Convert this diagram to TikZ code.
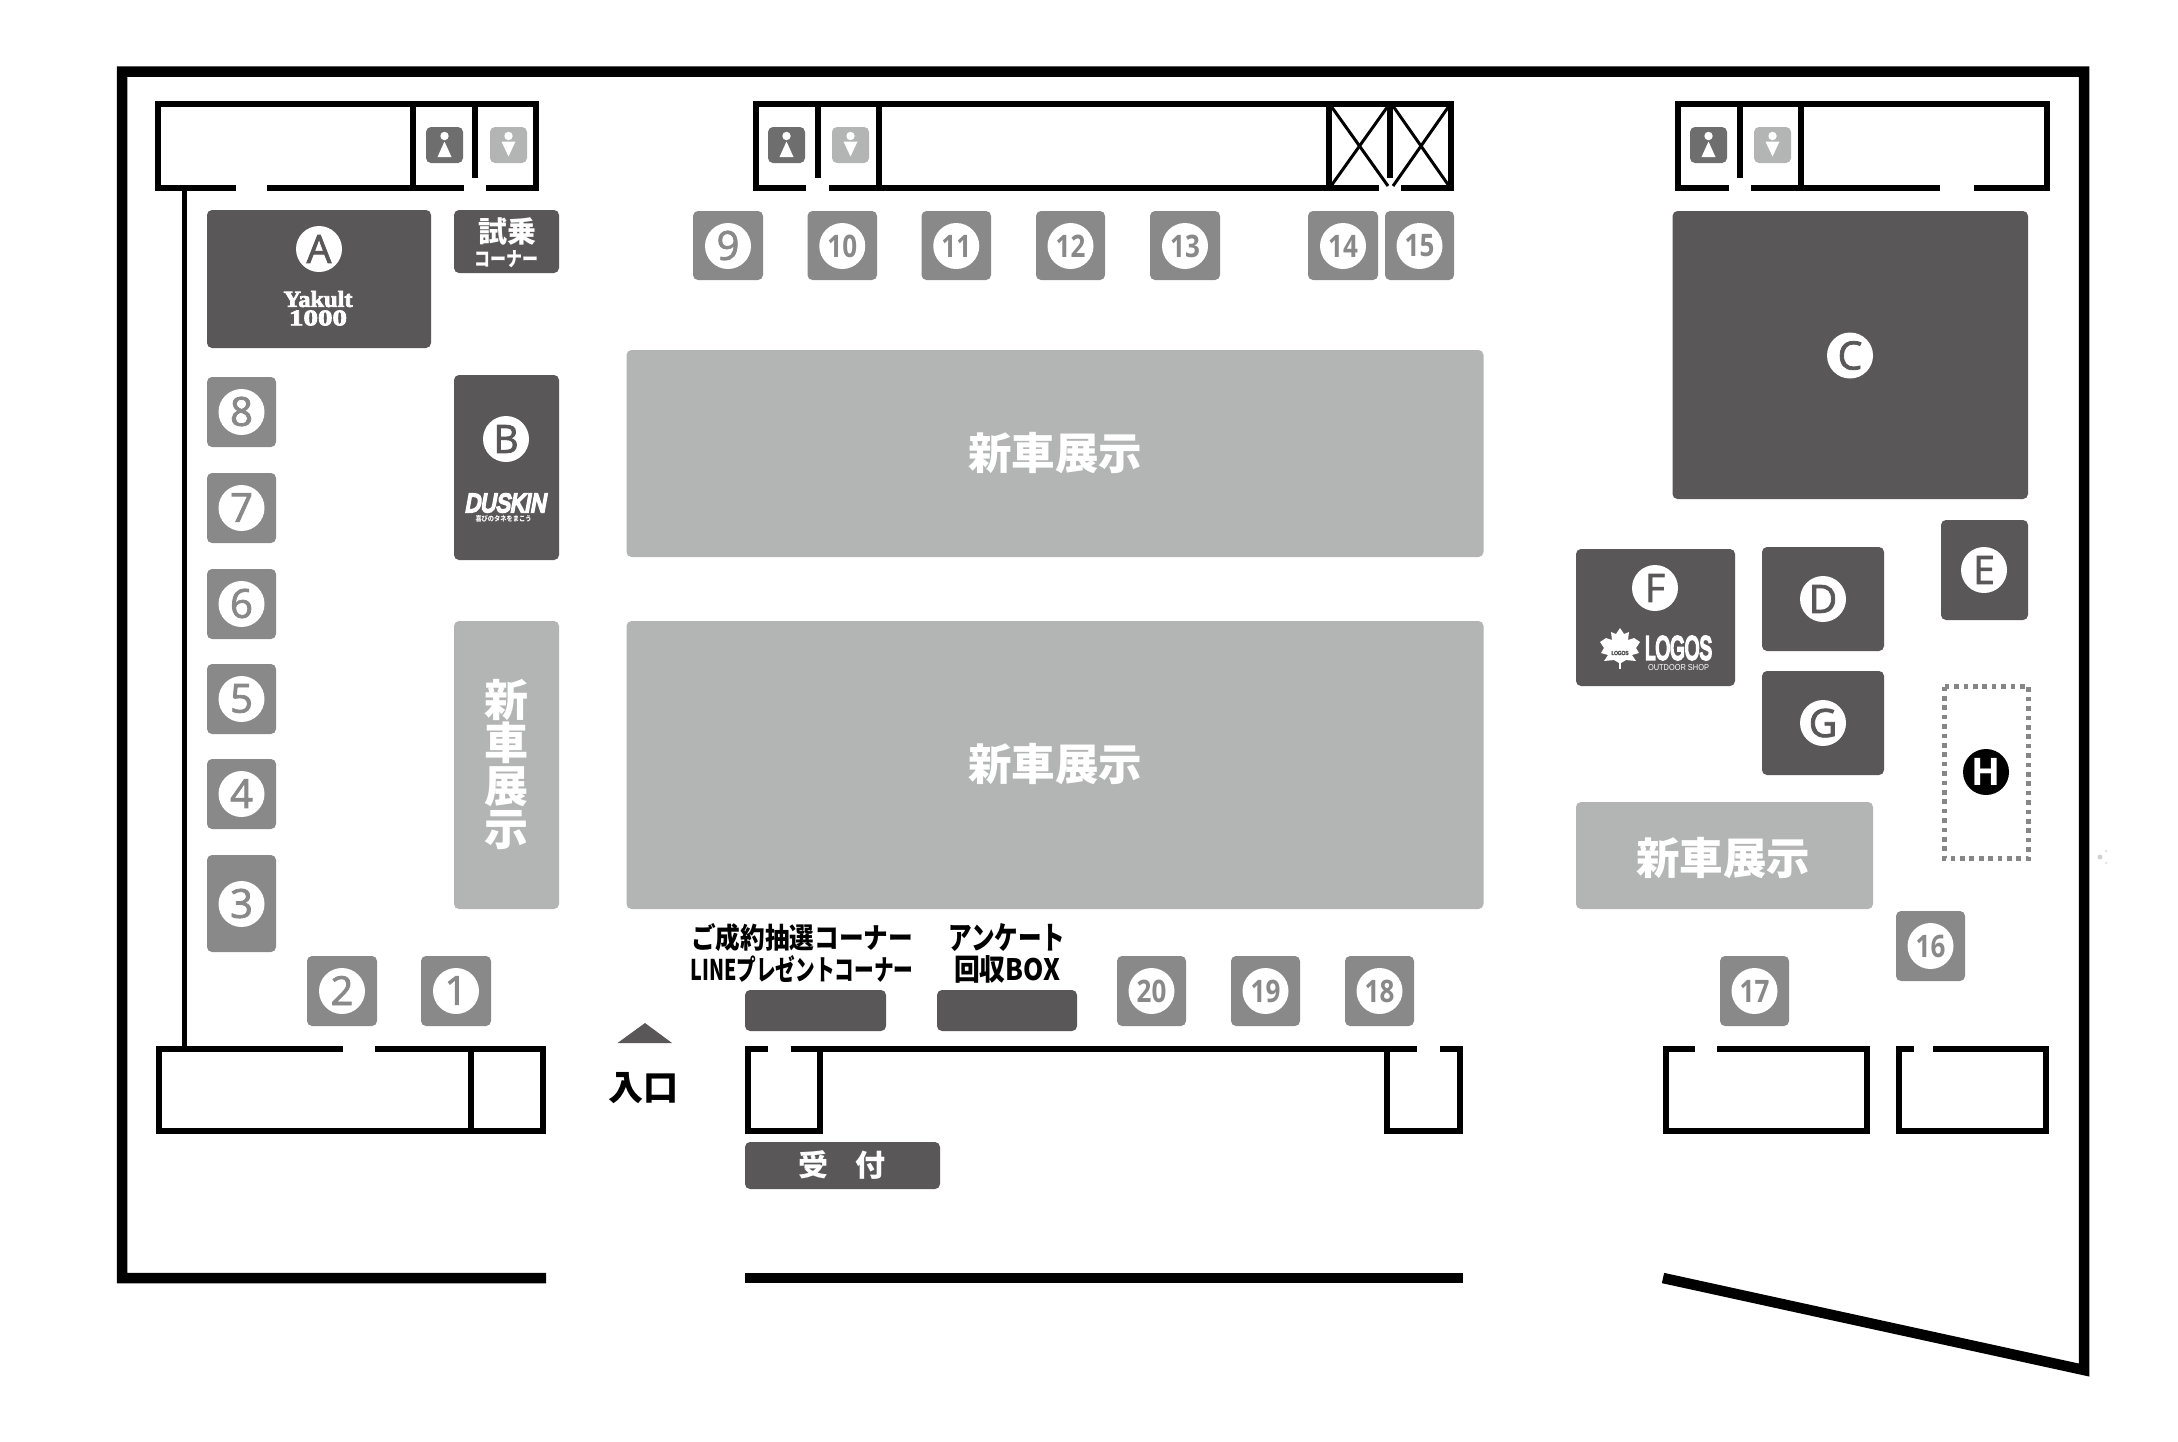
\documentclass[tikz,border=0pt]{standalone}
\usepackage{graphicx}
\usepackage{fontspec}
\setmainfont{Open Sans}
\newfontfamily\jp{Noto Sans CJK JP}
\newfontfamily\ser[FakeBold=3]{Liberation Serif}
\newfontfamily\san{Liberation Sans}
\newfontfamily\sanb[FakeBold=8]{Liberation Sans}
\newfontfamily\sanbi[FakeBold=9,FakeSlant=0.22]{Liberation Sans}
\newfontfamily\mk[FakeBold=2]{Open Sans}
\definecolor{dk}{HTML}{595757}
\definecolor{md}{HTML}{898989}
\definecolor{lt}{HTML}{B3B5B4}
\definecolor{wc}{HTML}{6E6E6E}
\tikzset{
  wall/.style={draw=black,line width=6pt,line join=miter,line cap=butt},
  outer/.style={draw=black,line width=10.5pt,line join=miter,line cap=butt},
  thinx/.style={draw=black,line width=3pt},
  plate/.style={rounded corners=5pt},
  lab/.style={inner sep=0pt,outer sep=0pt,anchor=center}
}
\newcommand{\onedig}[5]{\fill[md,plate] (#1,#3) rectangle (#2,#4);
  \fill[white] ({(#1+#2)/2},{#3+35}) circle[radius=23pt];
  \node[lab,text=md,font=\mk\fontsize{40}{40}\selectfont] at ({(#1+#2)/2},{#3+34.5}) {#5};}
\newcommand{\twodig}[5]{\fill[md,plate] (#1,#3) rectangle (#2,#4);
  \fill[white] ({(#1+#2)/2},{#3+35}) circle[radius=23pt];
  \node[lab,text=md,font=\bfseries\fontsize{31}{31}\selectfont] at ({(#1+#2)/2},{#3+35}) {\scalebox{0.84}[1]{#5}};}
\newcommand{\letter}[4]{\fill[white] (#1,#2) circle[radius=23pt];
  \node[lab,text=#3,font=\mk\fontsize{39}{39}\selectfont] at (#1,#2) {#4};}
\newcommand{\wcf}[2]{\fill[wc,rounded corners=5pt] (#1,#2) rectangle ++(37,36);
  \fill[white] ({#1+18.5},{#2+9}) circle[radius=4.2pt];
  \fill[white] ({#1+18.5},{#2+14.5}) -- ({#1+25.5},{#2+30}) -- ({#1+11.5},{#2+30}) -- cycle;}
\newcommand{\wcm}[2]{\fill[lt,rounded corners=5pt] (#1,#2) rectangle ++(37,36);
  \fill[white] ({#1+18.5},{#2+9}) circle[radius=4.2pt];
  \fill[white] ({#1+11.5},{#2+14.5}) -- ({#1+25.5},{#2+14.5}) -- ({#1+18.5},{#2+29.5}) -- cycle;}
\newcommand{\jpbold}[1]{\jp\bfseries\fontsize{#1}{#1}\selectfont}
\begin{document}
\begin{tikzpicture}[x=1pt,y=-1pt]
\useasboundingbox (0,0) rectangle (2178,1441);
\fill[white] (0,0) rectangle (2178,1441);
% outer walls
\draw[outer] (546,1278) -- (122,1278) -- (122,71.5) -- (2084,71.5) -- (2084,1370) -- (1663,1278);
\draw[outer] (745,1278) -- (1463,1278);
% top-left room
\draw[wall] (236,188) -- (158,188) -- (158,104) -- (536,104) -- (536,188) -- (486,188);
\draw[wall] (267,188) -- (464,188);
\draw[wall] (413,104) -- (413,188);
\draw[wall] (475,104) -- (475,178);
\draw[draw=black,line width=5pt] (184,188) -- (184,1049);
% top-middle room
\draw[wall] (806,188) -- (756,188) -- (756,104) -- (1451,104) -- (1451,188) -- (1401,188);
\draw[wall] (829,188) -- (1379,188);
\draw[wall] (818,104) -- (818,178);
\draw[wall] (879,104) -- (879,188);
\draw[wall] (1329,104) -- (1329,188);
\draw[wall] (1390,104) -- (1390,178);
\draw[thinx] (1331,106) -- (1388,186);
\draw[thinx] (1388,106) -- (1331,186);
\draw[thinx] (1393,106) -- (1449,186);
\draw[thinx] (1449,106) -- (1393,186);
% top-right room
\draw[wall] (1729,188) -- (1678,188) -- (1678,104) -- (2047,104) -- (2047,188) -- (1974,188);
\draw[wall] (1751,188) -- (1940,188);
\draw[wall] (1740,104) -- (1740,178);
\draw[wall] (1801,104) -- (1801,188);
% bottom-left room
\draw[wall] (343,1049) -- (159,1049) -- (159,1130.5) -- (543,1130.5) -- (543,1049) -- (375,1049);
\draw[wall] (471,1049) -- (471,1130);
% bottom-middle room
\draw[wall] (767.5,1049) -- (748,1049) -- (748,1131) -- (820,1131) -- (820,1049);
\draw[wall] (790.5,1049) -- (1417,1049);
\draw[wall] (1440,1049) -- (1460,1049) -- (1460,1130.5) -- (1387,1130.5) -- (1387,1049);
% bottom-right rooms
\draw[wall] (1695,1049) -- (1666,1049) -- (1666,1130.5) -- (1867,1130.5) -- (1867,1049) -- (1717,1049);
\draw[wall] (1914,1049) -- (1899,1049) -- (1899,1130.5) -- (2046,1130.5) -- (2046,1049) -- (1933,1049);
% wc icons
\wcf{426}{127}\wcm{490}{127}
\wcf{768}{127}\wcm{832}{127}
\wcf{1690}{127}\wcm{1754}{127}
% A
\fill[dk,plate] (207,210) rectangle (431,348);
\letter{319}{249}{dk}{A}
\node[lab,text=white] (yak) at (318,299) {\resizebox{69pt}{16pt}{\ser\bfseries Yakult}};
\node[lab,text=white] (yakn) at (318,318) {\resizebox{58pt}{15pt}{\ser\bfseries 1000}};
% shijo
\fill[dk,plate] (454,210) rectangle (559,273);
\node[lab,text=white,font=\jpbold{29}] (shijo) at (507,231) {試乗};
\node[lab,text=white] (corner) at (506,259) {\resizebox{64pt}{16pt}{\jpbold{20}コーナー}};
% B
\fill[dk,plate] (454,375) rectangle (559,560);
\letter{506}{439}{dk}{B}
\node[lab,text=white] (dusk) at (505,503) {\resizebox{81pt}{18pt}{\sanbi DUSKIN}};
\node[lab,text=white] (duskt) at (503.5,519) {\resizebox{56pt}{6pt}{\jpbold{10}喜びのタネをまこう}};
% new car
\fill[lt,plate] (626.5,350) rectangle (1483.5,557);
\fill[lt,plate] (626.5,621) rectangle (1483.5,909);
\fill[lt,plate] (454,621) rectangle (559,909);
\fill[lt,plate] (1576,802) rectangle (1873,909);
\node[lab,text=white,font=\jpbold{43.5}] (nc1) at (1055,453.5) {新車展示};
\node[lab,text=white,font=\jpbold{43.5}] (nc2) at (1055,764.5) {新車展示};
\node[lab,text=white,font=\jpbold{43.5}] (nc3) at (1723,858) {新車展示};
\node[lab,text=white,font=\jpbold{44},align=center] (nc4) at (506,765) {新\\[-1pt]車\\[-1pt]展\\[-1pt]示};
% C
\fill[dk,plate] (1672.5,211) rectangle (2028,499);
\letter{1850}{355.5}{dk}{C}
% F
\fill[dk,plate] (1576,549) rectangle (1735,686);
\letter{1655}{588}{dk}{F}
\fill[white] (1620,628) -- (1624,634) -- (1629,632) -- (1628,640) -- (1634,638) -- (1640,642) -- (1636,648) -- (1639,653) -- (1632,655) -- (1636,661) -- (1626,660) -- (1621,663) -- (1619,663) -- (1614,660) -- (1604,661) -- (1608,655) -- (1601,653) -- (1604,648) -- (1600,642) -- (1606,638) -- (1612,640) -- (1611,632) -- (1616,634) -- cycle;
\draw[white,line width=1.5pt] (1620,660) -- (1620,669);
\node[lab,text=dk] (lg0) at (1620,653) {\resizebox{17pt}{4pt}{\sanb LOGOS}};
\node[lab,text=white] (lg1) at (1678.5,648) {\resizebox{67pt}{23pt}{\sanb LOGOS}};
\node[lab,text=white] (lg2) at (1678.5,668) {\resizebox{61pt}{6pt}{\san OUTDOOR SHOP}};
% D G E
\fill[dk,plate] (1762,547) rectangle (1884,651);
\letter{1823}{599}{dk}{D}
\fill[dk,plate] (1762,671) rectangle (1884,775);
\letter{1823}{723}{dk}{G}
\fill[dk,plate] (1941,520) rectangle (2028,620);
\letter{1984}{570}{dk}{E}
% H
\draw[draw=gray!95,line width=5pt,dash pattern=on 4.7pt off 4.7pt] (1944,686.5) rectangle (2028.5,858.5);
\fill[black] (1986,772) circle[radius=23pt];
\node[lab,text=white,font=\bfseries\fontsize{38}{38}\selectfont] (hh) at (1986,772) {H};
% faint speck by the wall
\fill[black!18] (2100,857) circle[radius=2.5pt];
\fill[black!10] (2106,851) circle[radius=1.5pt];
\fill[black!10] (2106,863) circle[radius=1.5pt];
% numbered booths
\onedig{207}{276}{377}{447}{8}
\onedig{207}{276}{473}{543}{7}
\onedig{207}{276}{569}{639}{6}
\onedig{207}{276}{664}{734}{5}
\onedig{207}{276}{759}{829}{4}
\fill[md,plate] (207,855) rectangle (276,952);
\fill[white] (241.5,904) circle[radius=23pt];
\node[lab,text=md,font=\mk\fontsize{40}{40}\selectfont] (n3) at (241.5,903.5) {3};
\onedig{307}{377}{956}{1026}{2}
\onedig{421}{491}{956}{1026}{1}
\onedig{693}{763}{211}{280}{9}
\twodig{807.5}{877}{211}{280}{10}
\twodig{921.5}{991}{211}{280}{11}
\twodig{1036}{1105}{211}{280}{12}
\twodig{1150}{1220}{211}{280}{13}
\twodig{1308}{1378}{211}{280}{14}
\twodig{1385}{1454}{211}{280}{15}
\twodig{1117}{1186}{956}{1026}{20}
\twodig{1231}{1300}{956}{1026}{19}
\twodig{1345}{1414}{956}{1026}{18}
\twodig{1720}{1789}{956}{1026}{17}
\twodig{1896}{1965}{911}{981}{16}
% service desks
\fill[dk,plate] (745,990) rectangle (886,1031);
\fill[dk,plate] (937,990) rectangle (1077,1031);
\node[lab] (t1) at (802,938) {\resizebox{222pt}{25pt}{\jpbold{24}ご成約抽選コーナー}};
\node[lab] (t2) at (802,969) {\resizebox{223pt}{25pt}{\jpbold{24}LINEプレゼントコーナー}};
\node[lab] (t3) at (1007,938) {\resizebox{117pt}{26pt}{\jpbold{24}アンケート}};
\node[lab] (t4) at (1007,969) {\resizebox{106pt}{25pt}{\jpbold{24}回収BOX}};
\fill[dk,plate] (745,1142) rectangle (940,1189);
\node[lab,text=white,font=\jpbold{30}] (uke) at (842,1165) {受\hspace{27pt}付};
% entrance
\fill[dk] (617.5,1043) -- (645,1023) -- (672,1043) -- cycle;
\node[lab,font=\jpbold{35}] (ent) at (643,1088.5) {入口};
\end{tikzpicture}
\end{document}
